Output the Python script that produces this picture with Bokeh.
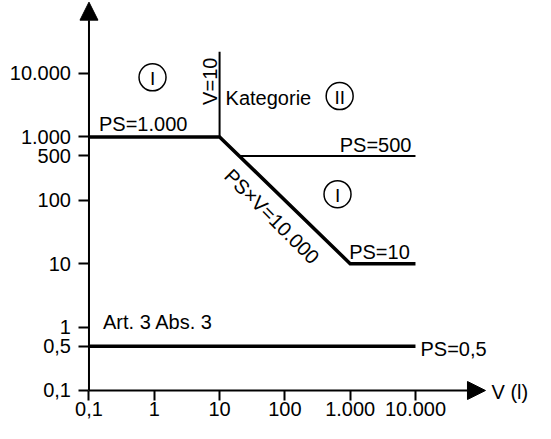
import math
from bokeh.plotting import figure
from bokeh.models import FixedTicker, Arrow, NormalHead, Range1d
from bokeh.core.properties import value
from bokeh.embed import file_html
from bokeh.resources import INLINE

# ---- data -------------------------------------------------------------
# limit curve: PS=1000 up to V=10, then PS*V=10000 down to V=1000, then PS=10
limit_v = [0.1, 10, 1000, 10000]
limit_ps = [1000, 1000, 10, 10]
# vertical boundary V=10
v10_v = [10, 10]
v10_ps = [1000, 22000]
# PS=500 boundary
ps500_v = [20, 10000]
ps500_ps = [500, 500]
# PS=0,5 boundary (Art. 3 Abs. 3)
ps05_v = [0.1, 10000]
ps05_ps = [0.5, 0.5]

x_ticks = [0.1, 1, 10, 100, 1000, 10000]
x_tick_labels = ["0,1", "1", "10", "100", "1.000", "10.000"]
y_ticks = [0.1, 0.5, 1, 10, 100, 500, 1000, 10000]
y_tick_labels = ["0,1", "0,5", "1", "10", "100", "500", "1.000", "10.000"]

region_v = [0.94, 690, 640]
region_ps = [8700, 4400, 125]
region_labels = ["I", "II", "I"]

# ---- figure -----------------------------------------------------------
FONT = value("Liberation Sans")
FS = "20px"
origin = 0.1
x_start, x_end, x_tip = 10 ** -2.355, 10 ** 5.838, 10 ** 5.072
y_start, y_end, y_tip = 10 ** -1.5205, 10 ** 5.151, 10 ** 5.125

p = figure(width=535, height=423, x_axis_type="log", y_axis_type="log",
           x_range=Range1d(x_start, x_end), y_range=Range1d(y_start, y_end),
           output_backend="svg", toolbar_location=None, min_border=0)
p.outline_line_color = None
p.grid.visible = False
p.background_fill_color = "white"
p.border_fill_color = "white"

p.xaxis.ticker = FixedTicker(ticks=x_ticks, minor_ticks=[])
p.xaxis.major_label_overrides = dict(zip(x_ticks, x_tick_labels))
p.yaxis.ticker = FixedTicker(ticks=y_ticks, minor_ticks=[])
p.yaxis.major_label_overrides = dict(zip(y_ticks, y_tick_labels))
p.xaxis.fixed_location = origin
p.yaxis.fixed_location = origin
for ax in (p.xaxis, p.yaxis):
    ax.axis_line_color = None
    ax.major_tick_line_width = 2
    ax.major_tick_line_color = "black"
    ax.major_tick_out = 10
    ax.major_tick_in = 0
    ax.minor_tick_line_color = None
    ax.major_label_text_font = "Liberation Sans"
    ax.major_label_text_font_size = FS
    ax.major_label_text_color = "black"
p.xaxis.major_label_standoff = 2
p.yaxis.major_label_standoff = 8

# axes with arrow heads
for xe, ye in [(x_tip, origin), (origin, y_tip)]:
    p.add_layout(Arrow(end=NormalHead(size=18, fill_color="black", line_color="black", line_width=1),
                       x_start=origin, y_start=origin, x_end=xe, y_end=ye,
                       line_width=2, line_color="black"))

# boundary lines
p.line(limit_v, limit_ps, line_width=3.5, line_color="black", line_join="miter")
p.line(ps05_v, ps05_ps, line_width=3.5, line_color="black")
p.line(v10_v, v10_ps, line_width=2, line_color="black")
p.line(ps500_v, ps500_ps, line_width=2, line_color="black")

# category circles
p.scatter(region_v, region_ps, marker="circle", size=27, fill_color="white",
          line_color="black", line_width=1.5)
p.text(region_v, region_ps, text=region_labels, text_align="center",
       text_baseline="middle", text_font=FONT, text_font_size="19px", y_offset=1)

def lab(x, y, t, **kw):
    opts = dict(text_font=FONT, text_font_size=FS, text_color="black",
                text_baseline="alphabetic", text_align="left")
    opts.update(kw)
    p.text([x], [y], text=[t], **opts)

lab(0.1, 1000, "PS=1.000", x_offset=10, y_offset=-13)
lab(10, 1000, "V=10", angle=math.pi / 2, x_offset=-10, y_offset=-32)
lab(10, 1000, "Kategorie", x_offset=6, y_offset=-39)
lab(10000, 500, "PS=500", text_align="right", x_offset=-4, y_offset=-11)
lab(100, 100, "PS×V=10.000", angle=-math.pi / 4, text_align="center",
    text_baseline="middle", x_offset=-13, y_offset=16)
lab(1000, 10, "PS=10", x_offset=-1, y_offset=-12)
lab(0.1, 1, "Art. 3 Abs. 3", x_offset=14, y_offset=-5)
lab(10000, 0.5, "PS=0,5", x_offset=5, y_offset=2.5)
lab(x_tip, origin, "V (l)", x_offset=6, y_offset=2)

open("out.html", "w").write(file_html(p, INLINE))
